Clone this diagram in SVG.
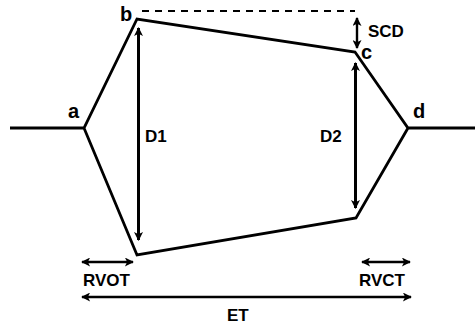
<svg xmlns="http://www.w3.org/2000/svg" width="475" height="325" viewBox="0 0 475 325">
<style>
.shape{fill:none;stroke:#000;stroke-width:2.8;stroke-linejoin:miter}
.arr{fill:none;stroke:#000;stroke-width:3;marker-start:url(#ah);marker-end:url(#ah)}
.arr2{fill:none;stroke:#000;stroke-width:2.4;marker-start:url(#ah);marker-end:url(#ah)}
.lbl{font-family:"Liberation Sans",Arial,sans-serif;font-weight:bold;font-size:17px;fill:#000}
.pt{font-family:"Liberation Sans",Arial,sans-serif;font-weight:bold;font-size:20px;fill:#000}
</style>
<defs>
<marker id="ah" viewBox="0 0 10 10" refX="9" refY="5" markerUnits="userSpaceOnUse" markerWidth="10" markerHeight="9" orient="auto-start-reverse">
<path d="M0,0 L10,5 L0,10 L2.5,5 z" fill="#000"/>
</marker>
</defs>
<g id="vessel">
<path class="shape" d="M10,128 L84,128 L137,19 L355,52 L408,128 L475,128 M84,128 L137,255 L356,218 L408,128"/>
<line x1="142" y1="11" x2="355" y2="11" stroke="#000" stroke-width="1.8" stroke-dasharray="7 6"/>
</g>
<g id="connectors">
<line class="arr" x1="138.5" y1="28" x2="138.5" y2="240"/>
<line class="arr" x1="355.5" y1="63" x2="355.5" y2="208"/>
<line class="arr2" x1="357" y1="18" x2="357" y2="48"/>
<line class="arr2" x1="82" y1="262" x2="133" y2="262"/>
<line class="arr2" x1="362" y1="262" x2="410" y2="262"/>
<line class="arr2" x1="82" y1="297" x2="411" y2="297"/>
</g>
<g id="labels">
<text class="pt" x="120" y="21">b</text>
<text class="pt" x="68" y="118">a</text>
<text class="pt" x="361" y="59">c</text>
<text class="pt" x="413" y="118">d</text>
<text class="lbl" x="145" y="142">D1</text>
<text class="lbl" x="320" y="142">D2</text>
<text class="lbl" x="368" y="37">SCD</text>
<text class="lbl" x="83" y="286">RVOT</text>
<text class="lbl" x="359" y="286">RVCT</text>
<text class="lbl" x="227" y="321">ET</text>
</g>
</svg>
